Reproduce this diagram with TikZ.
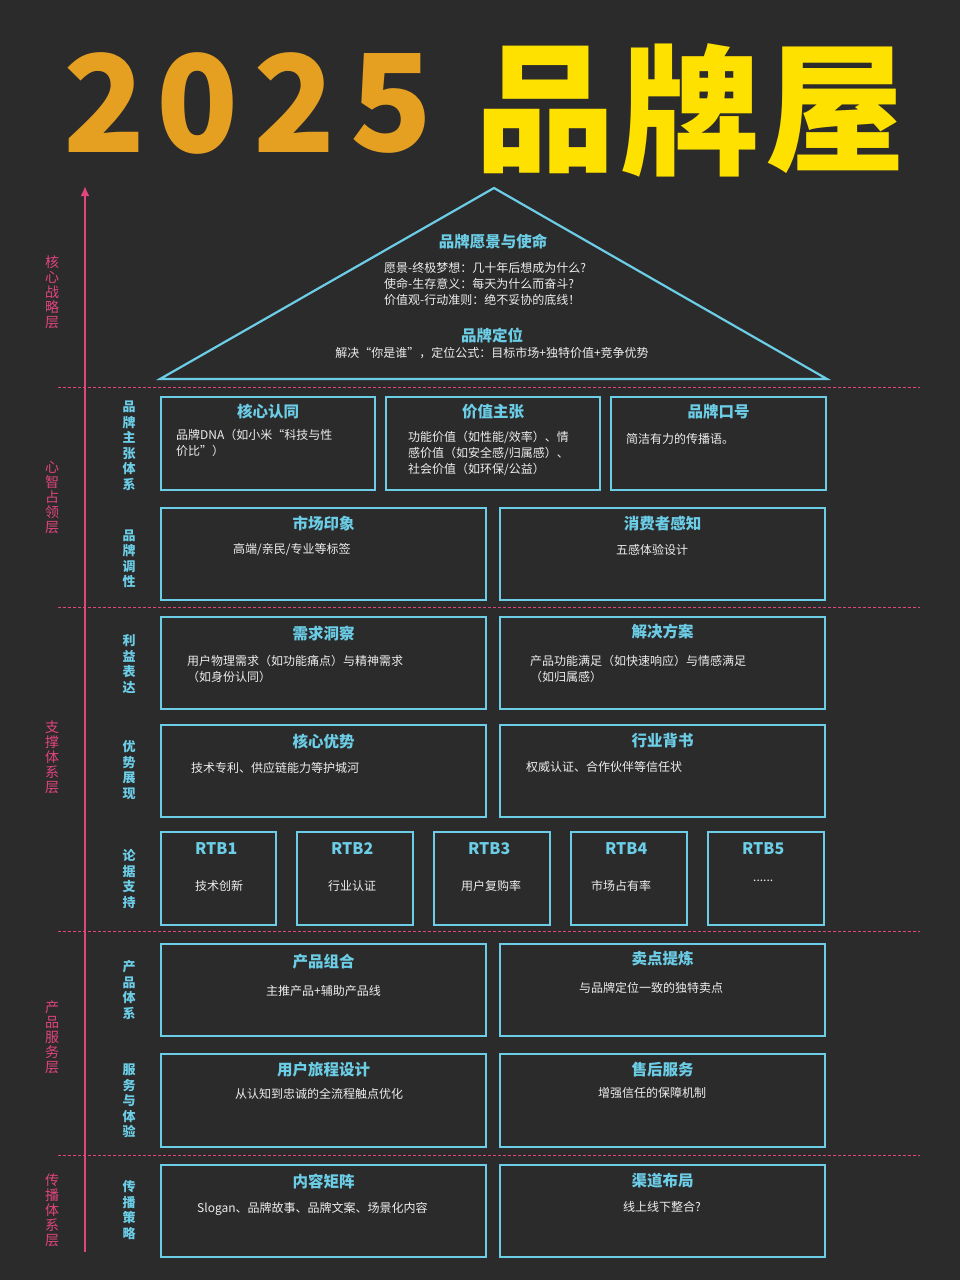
\documentclass[tikz,border=0pt]{standalone}
\usepackage{fontspec}
\usetikzlibrary{arrows.meta}
\setmainfont{Noto Sans CJK SC}
\newcommand\cjkb{\bfseries}
\begin{document}
\begin{tikzpicture}[x=1pt,y=-1pt,
  cy/.style={draw=cyanc,line width=2.2pt},
  ttl/.style={text=cyanc,font=\cjkb\fontsize{15.5}{18}\selectfont,inner sep=0pt},
  body/.style={text=bodyc,font=\fontsize{12}{16}\selectfont,inner sep=0pt,align=left,anchor=north west},
  lay/.style={text=pinkc,font=\fontsize{14}{15}\selectfont,align=center,inner sep=0pt},
  sub/.style={text=cyanc,font=\cjkb\fontsize{13}{15.5}\selectfont,align=center,inner sep=0pt},
  sep/.style={draw=pinkc,dashed,dash pattern=on 3pt off 2pt,line width=0.6pt}]
\definecolor{bgc}{HTML}{2B2B2B}
\definecolor{cyanc}{HTML}{6CCDE6}
\definecolor{pinkc}{HTML}{E0457E}
\definecolor{bodyc}{HTML}{EDEDED}
\definecolor{orc}{HTML}{E5A021}
\definecolor{yec}{HTML}{FFE100}
\fill[bgc] (0,0) rectangle (960,1280);
\useasboundingbox (0,0) rectangle (960,1280);
% title
\foreach \d/\x in {2/105,0/198,2/295,5/392}
  \node[text=orc,font=\cjkb\fontsize{135}{135}\selectfont,inner sep=0pt] at (\x,103) {\d};
\foreach \c/\x in {品/545,牌/690,屋/835}
  \node[text=yec,font=\cjkb\fontsize{140}{140}\selectfont,inner sep=0pt] at (\x,110) {\c};
% arrow
\coordinate (a0) at (85,1252); \coordinate (a1) at (85,186);
\draw[pinkc,line width=2.5pt,-{Latex[length=10pt,width=9pt]}] (a0) -- (a1);
% separators
\foreach \y in {387,607,931,1155} \draw[sep] (58,\y) -- (920,\y);
% layer labels
\node[lay] (l1) at (52,292) {核\\心\\战\\略\\层};
\node[lay] (l2) at (52,497) {心\\智\\占\\领\\层};
\node[lay] (l3) at (52,757) {支\\撑\\体\\系\\层};
\node[lay] (l4) at (52,1037) {产\\品\\服\\务\\层};
\node[lay] (l5) at (52,1210) {传\\播\\体\\系\\层};
% sub labels
\node[sub] (s1) at (129,446) {品\\牌\\主\\张\\体\\系};
\node[sub] (s2) at (129,559) {品\\牌\\调\\性};
\node[sub] (s3) at (129,664) {利\\益\\表\\达};
\node[sub] (s4) at (129,770) {优\\势\\展\\现};
\node[sub] (s5) at (129,879) {论\\据\\支\\持};
\node[sub] (s6) at (129,990) {产\\品\\体\\系};
\node[sub] (s7) at (129,1101) {服\\务\\与\\体\\验};
\node[sub] (s8) at (129,1210) {传\\播\\策\\略};
% roof
\coordinate (r1) at (494,188); \coordinate (r2) at (160,379); \coordinate (r3) at (827,379);
\draw[cy,line join=miter] (r1) -- (r2) -- (r3) -- cycle;
\node[ttl] (t0) at (493,242) {品牌愿景与使命};
\node[body] (b0) at (384,262) {愿景-终极梦想：几十年后想成为什么?\\使命-生存意义：每天为什么而奋斗?\\价值观-行动准则：绝不妥协的底线！};
\node[ttl] (t0b) at (492,335) {品牌定位};
\node[text=bodyc,font=\fontsize{12}{16}\selectfont,inner sep=0pt] (b0b) at (492,353) {解决“你是谁”，定位公式：目标市场+独特价值+竞争优势};
% boxes
\newcommand\mybox[7]{% name x1 y1 x2 y2 title ty
  \draw[cy] (#2,#3) rectangle (#4,#5);
  \node[ttl] (#1) at ({(#2+#4)/2},#7) {#6};}
\newcommand\rtb[5]{% n x1 x2 body bodyx
  \draw[cy] (#2,832) rectangle (#3,925);
  \node[ttl,anchor=west,font=\fontsize{16}{18}\selectfont\bfseries] (rtb#1) at ({#2+34},849) {RTB#1};
  \node[body] at (#5,880) {#4};}
\mybox{k1}{161}{397}{375}{490}{核心认同}{412}
\mybox{k2}{386}{397}{600}{490}{价值主张}{412}
\mybox{k3}{611}{397}{826}{490}{品牌口号}{412}
\node[body] at (176,429) {品牌DNA（如小米“科技与性\\价比”）};
\node[body] at (408,431) {功能价值（如性能/效率）、情\\感价值（如安全感/归属感）、\\社会价值（如环保/公益）};
\node[body] at (626,433) {简洁有力的传播语。};
\mybox{m1}{161}{508}{486}{600}{市场印象}{524}
\mybox{m2}{500}{508}{825}{600}{消费者感知}{524}
\node[body] at (233,543) {高端/亲民/专业等标签};
\node[body] at (616,544) {五感体验设计};
\mybox{x1}{161}{617}{486}{709}{需求洞察}{634}
\mybox{x2}{500}{617}{825}{709}{解决方案}{632}
\node[body] at (187,655) {用户物理需求（如功能痛点）与精神需求\\（如身份认同）};
\node[body] at (530,655) {产品功能满足（如快速响应）与情感满足\\（如归属感）};
\mybox{y1}{161}{725}{486}{817}{核心优势}{742}
\mybox{y2}{500}{725}{825}{817}{行业背书}{741}
\node[body] at (191,762) {技术专利、供应链能力等护城河};
\node[body] at (526,761) {权威认证、合作伙伴等信任状};
\rtb{1}{161}{276}{技术创新}{195}
\rtb{2}{297}{413}{行业认证}{328}
\rtb{3}{434}{550}{用户复购率}{461}
\rtb{4}{571}{687}{市场占有率}{591}
\rtb{5}{708}{824}{......}{753}
\mybox{p1}{161}{944}{486}{1036}{产品组合}{962}
\mybox{p2}{500}{944}{825}{1036}{卖点提炼}{959}
\node[body] at (266,985) {主推产品+辅助产品线};
\node[body] at (579,982) {与品牌定位一致的独特卖点};
\mybox{f1}{161}{1054}{486}{1147}{用户旅程设计}{1070}
\mybox{f2}{500}{1054}{825}{1147}{售后服务}{1070}
\node[body] at (235,1088) {从认知到忠诚的全流程触点优化};
\node[body] at (598,1087) {增强信任的保障机制};
\mybox{c1}{161}{1165}{486}{1257}{内容矩阵}{1182}
\mybox{c2}{500}{1165}{825}{1257}{渠道布局}{1181}
\node[body] at (197,1202) {Slogan、品牌故事、品牌文案、场景化内容};
\node[body] at (623,1201) {线上线下整合?};
\end{tikzpicture}
\end{document}
